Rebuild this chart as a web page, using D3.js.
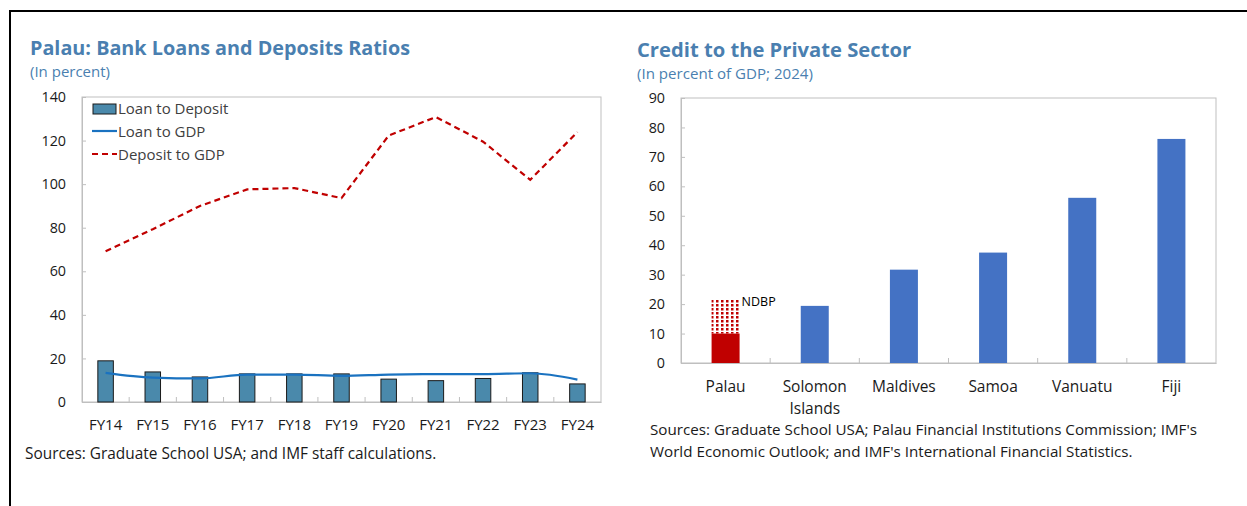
<!DOCTYPE html>
<html><head><meta charset="utf-8">
<script src="https://cdn.jsdelivr.net/npm/d3@7"></script>
<style>
html,body{margin:0;padding:0;background:#fff;}
svg{display:block;font-family:"Open Sans","Noto Sans",sans-serif;}
</style></head>
<body>
<svg id="c" width="1247" height="506"></svg>
<script>
// ---- Left chart data ----
const years = ["FY14","FY15","FY16","FY17","FY18","FY19","FY20","FY21","FY22","FY23","FY24"];
const loanToDeposit = [18.9,13.8,11.5,12.9,12.9,12.9,10.5,9.8,10.8,13.4,8.3];
const loanToGDP = [13.4,11.2,10.8,12.6,12.6,12.0,12.6,12.8,12.8,13.2,10.3];
const depositToGDP = [69.2,79.3,90.0,97.6,98.2,93.6,122.3,130.8,119.5,102.0,123.9];
const leftTicks = [0,20,40,60,80,100,120,140];

// ---- Right chart data ----
const countries = [["Palau"],["Solomon","Islands"],["Maldives"],["Samoa"],["Vanuatu"],["Fiji"]];
const countryKeys = ["Palau","Solomon Islands","Maldives","Samoa","Vanuatu","Fiji"];
const creditValues = [10.0,19.4,31.7,37.5,56.1,76.1];
const ndbpTop = 21.6;
const rightTicks = [0,10,20,30,40,50,60,70,80,90];

const svg = d3.select("#c");
const titleColor = "#4a7fb0";
const textColor = "#1a1a1a";
const axisColor = "#bfbfbf";

// outer frame lines
svg.append("line").attr("x1",9).attr("x2",1247).attr("y1",11).attr("y2",11).attr("stroke","#000").attr("stroke-width",2);
svg.append("line").attr("x1",10).attr("x2",10).attr("y1",10).attr("y2",506).attr("stroke","#000").attr("stroke-width",2);

// ---------- LEFT ----------
svg.append("text").attr("x",30).attr("y",55).attr("fill",titleColor).attr("font-size",19.8).attr("font-weight",700).text("Palau: Bank Loans and Deposits Ratios");
svg.append("text").attr("x",30).attr("y",77).attr("fill",titleColor).attr("font-size",15).text("(In percent)");

const L = {x0:82, x1:601, y0:402, y1:97};
const xL = d3.scaleBand().domain(years).range([L.x0,L.x1]);
const yL = d3.scaleLinear().domain([0,140]).range([L.y0,L.y1]);

const gL = svg.append("g");
gL.append("rect").attr("x",L.x0).attr("y",L.y1).attr("width",L.x1-L.x0).attr("height",L.y0-L.y1).attr("fill","none").attr("stroke",axisColor).attr("stroke-width",1);

// y axis
const yAxL = d3.axisLeft(yL).tickValues(leftTicks).tickSize(-4).tickPadding(16);
const gyL = gL.append("g").attr("transform",`translate(${L.x0},0)`).call(yAxL);
gyL.select(".domain").attr("stroke",axisColor);
gyL.selectAll(".tick line").attr("stroke",axisColor);
gyL.selectAll(".tick text").attr("fill",textColor).attr("font-size",14.3).attr("font-family","Open Sans");

// x axis
const xAxL = d3.axisBottom(xL).tickSize(0).tickPadding(17);
const gxL = gL.append("g").attr("transform",`translate(0,${L.y0})`).call(xAxL);
gxL.select(".domain").attr("stroke",axisColor);
gxL.selectAll(".tick text").attr("fill",textColor).attr("font-size",15).attr("font-family","Open Sans");
// category separator ticks
gL.selectAll(".sepL").data(years.slice(1)).enter().append("line")
  .attr("x1",d=>xL(d)).attr("x2",d=>xL(d)).attr("y1",L.y0).attr("y2",L.y0-5).attr("stroke",axisColor);

// bars
const bwL = 15.5;
gL.selectAll(".barL").data(years).enter().append("rect")
  .attr("x",d=>xL(d)+xL.bandwidth()/2-bwL/2)
  .attr("y",(d,i)=>yL(loanToDeposit[i]))
  .attr("width",bwL)
  .attr("height",(d,i)=>L.y0-yL(loanToDeposit[i]))
  .attr("fill","#4a89ab").attr("stroke","#1a1a1a").attr("stroke-width",1);

// lines
gL.append("path").attr("d",d3.line().x((d,i)=>xL(years[i])+xL.bandwidth()/2).y(d=>yL(d)).curve(d3.curveMonotoneX)(loanToGDP))
  .attr("fill","none").attr("stroke","#1a72c0").attr("stroke-width",2.2);
gL.append("path").attr("d",d3.line().x((d,i)=>xL(years[i])+xL.bandwidth()/2).y(d=>yL(d))(depositToGDP))
  .attr("fill","none").attr("stroke","#c00000").attr("stroke-width",2.2).attr("stroke-dasharray","6,4");

// legend
const legItems = ["Loan to Deposit","Loan to GDP","Deposit to GDP"];
const lg = gL.append("g");
lg.append("rect").attr("x",93).attr("y",104).attr("width",23).attr("height",10).attr("fill","#4a89ab").attr("stroke","#1a1a1a");
lg.append("line").attr("x1",92).attr("x2",117).attr("y1",131).attr("y2",131).attr("stroke","#1a72c0").attr("stroke-width",2.2);
lg.append("line").attr("x1",92).attr("x2",117).attr("y1",154).attr("y2",154).attr("stroke","#c00000").attr("stroke-width",2.2).attr("stroke-dasharray","6,4");
lg.selectAll("text").data(legItems).enter().append("text")
  .attr("x",118).attr("y",(d,i)=>114+i*23).attr("fill","#404040").attr("font-size",15).text(d=>d);

svg.append("text").attr("x",25).attr("y",459).attr("fill",textColor).attr("font-size",15.4).text("Sources: Graduate School USA; and IMF staff calculations.");

// ---------- RIGHT ----------
svg.append("text").attr("x",637).attr("y",57).attr("fill",titleColor).attr("font-size",20.2).attr("font-weight",700).text("Credit to the Private Sector");
svg.append("text").attr("x",637).attr("y",79).attr("fill",titleColor).attr("font-size",15.1).text("(In percent of GDP; 2024)");

const R = {x0:681, x1:1216, y0:363, y1:98};
const xR = d3.scaleBand().domain(countryKeys).range([R.x0,R.x1]);
const yR = d3.scaleLinear().domain([0,90]).range([R.y0,R.y1]);
const gR = svg.append("g");
gR.append("rect").attr("x",R.x0).attr("y",R.y1).attr("width",R.x1-R.x0).attr("height",R.y0-R.y1).attr("fill","none").attr("stroke",axisColor);

const gyR = gR.append("g").attr("transform",`translate(${R.x0},0)`).call(d3.axisLeft(yR).tickValues(rightTicks).tickSize(-4).tickPadding(16));
gyR.select(".domain").attr("stroke",axisColor);
gyR.selectAll(".tick line").attr("stroke",axisColor);
gyR.selectAll(".tick text").attr("fill",textColor).attr("font-size",14.3).attr("font-family","Open Sans");

const gxR = gR.append("g").attr("transform",`translate(0,${R.y0})`).call(d3.axisBottom(xR).tickSize(0).tickFormat(""));
gxR.select(".domain").attr("stroke",axisColor);
gR.selectAll(".sepR").data(countryKeys.slice(1)).enter().append("line")
  .attr("x1",d=>xR(d)).attr("x2",d=>xR(d)).attr("y1",R.y0).attr("y2",R.y0-5).attr("stroke",axisColor);
// x labels (multi-line)
countries.forEach((lines,i)=>{
  const t = gR.append("text").attr("x",xR(countryKeys[i])+xR.bandwidth()/2).attr("y",392)
    .attr("text-anchor","middle").attr("fill",textColor).attr("font-size",15.5);
  lines.forEach((ln,j)=>t.append("tspan").attr("x",xR(countryKeys[i])+xR.bandwidth()/2).attr("dy",j?21.5:0).text(ln));
});

// pattern for NDBP
const defs = svg.append("defs");
const pat = defs.append("pattern").attr("id","dots").attr("patternUnits","userSpaceOnUse").attr("width",5).attr("height",4).attr("x",1).attr("y",0);
pat.append("rect").attr("x",0).attr("y",0).attr("width",2.5).attr("height",2.5).attr("fill","#c00000");

const bwR = 28;
const cx = d => xR(d)+xR.bandwidth()/2-bwR/2;
gR.append("rect").attr("x",cx("Palau")).attr("y",yR(ndbpTop)).attr("width",bwR).attr("height",yR(creditValues[0])-yR(ndbpTop)).attr("fill","url(#dots)");
gR.selectAll(".barR").data(countryKeys).enter().append("rect")
  .attr("x",d=>cx(d)).attr("y",(d,i)=>yR(creditValues[i])).attr("width",bwR)
  .attr("height",(d,i)=>R.y0-yR(creditValues[i]))
  .attr("fill",(d,i)=>i===0?"#c00000":"#4472c4");
gR.append("text").attr("x",cx("Palau")+bwR+2).attr("y",yR(ndbpTop)+7).attr("fill","#000").attr("font-size",12.5).text("NDBP");

svg.append("text").attr("x",650).attr("y",435).attr("fill",textColor).attr("font-size",15.2).text("Sources: Graduate School USA; Palau Financial Institutions Commission; IMF's");
svg.append("text").attr("x",650).attr("y",457).attr("fill",textColor).attr("font-size",15.2).text("World Economic Outlook; and IMF's International Financial Statistics.");
</script>
</body></html>
